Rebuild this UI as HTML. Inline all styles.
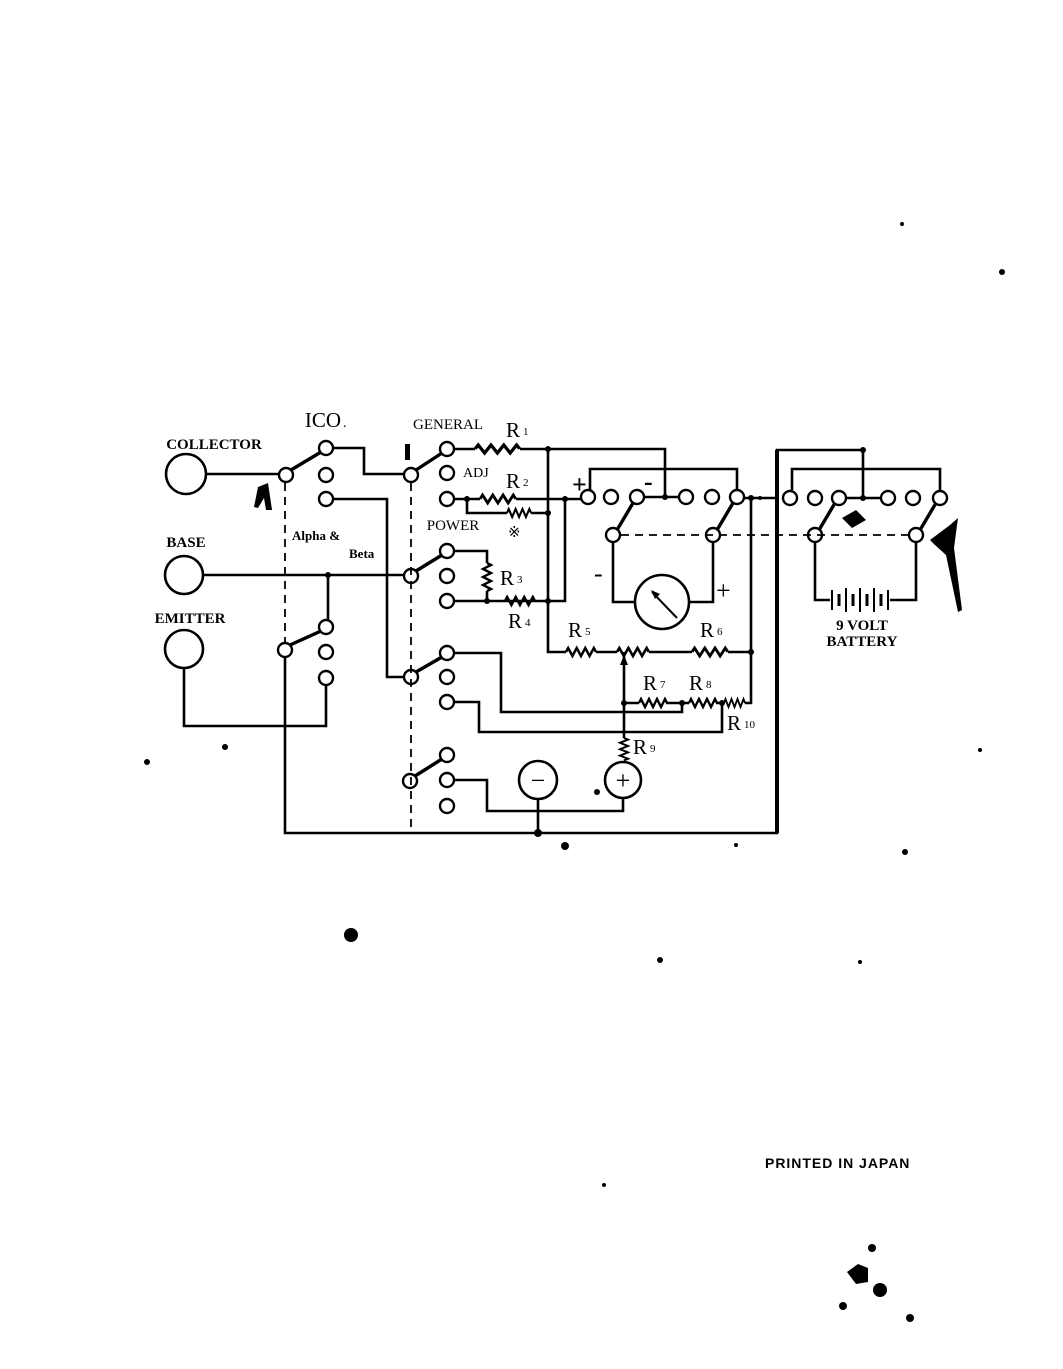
<!DOCTYPE html>
<html><head><meta charset="utf-8"><style>
html,body{margin:0;padding:0;background:#fff}
svg{display:block}
text{font-family:"Liberation Serif",serif;fill:#000}
.b{font-weight:bold}
</style></head><body>
<svg width="1063" height="1369" viewBox="0 0 1063 1369" xmlns="http://www.w3.org/2000/svg">
<defs>
<path id="zz" d="M0 0 l2 -4 l4 8 l4 -8 l4 8 l4 -8 l4 8 l4 -8 l2 4" fill="none" stroke="#000" stroke-width="2.4"/>
</defs>
<g fill="none" stroke="#000" stroke-width="2.6">
<circle cx="186" cy="474" r="20"/>
<circle cx="184" cy="575" r="19"/>
<circle cx="184" cy="649" r="19"/>
<g stroke-width="2.4">
<circle cx="286" cy="475" r="7"/><circle cx="326" cy="448" r="7"/><circle cx="326" cy="475" r="7"/><circle cx="326" cy="499" r="7"/>
<circle cx="285" cy="650" r="7"/><circle cx="326" cy="627" r="7"/><circle cx="326" cy="652" r="7"/><circle cx="326" cy="678" r="7"/>
<circle cx="411" cy="475" r="7"/><circle cx="447" cy="449" r="7"/><circle cx="447" cy="473" r="7"/><circle cx="447" cy="499" r="7"/>
<circle cx="411" cy="576" r="7"/><circle cx="447" cy="551" r="7"/><circle cx="447" cy="576" r="7"/><circle cx="447" cy="601" r="7"/>
<circle cx="411" cy="677" r="7"/><circle cx="447" cy="653" r="7"/><circle cx="447" cy="677" r="7"/><circle cx="447" cy="702" r="7"/>
<circle cx="410" cy="781" r="7"/><circle cx="447" cy="755" r="7"/><circle cx="447" cy="780" r="7"/><circle cx="447" cy="806" r="7"/>
<circle cx="588" cy="497" r="7"/><circle cx="611" cy="497" r="7"/><circle cx="637" cy="497" r="7"/><circle cx="686" cy="497" r="7"/><circle cx="712" cy="497" r="7"/><circle cx="737" cy="497" r="7"/>
<circle cx="613" cy="535" r="7"/><circle cx="713" cy="535" r="7"/>
<circle cx="790" cy="498" r="7"/><circle cx="815" cy="498" r="7"/><circle cx="839" cy="498" r="7"/><circle cx="888" cy="498" r="7"/><circle cx="913" cy="498" r="7"/><circle cx="940" cy="498" r="7"/>
<circle cx="815" cy="535" r="7"/><circle cx="916" cy="535" r="7"/>
</g>
<g stroke-width="3.4">
<line x1="291" y1="470" x2="321" y2="452"/>
<line x1="290" y1="645" x2="321" y2="631"/>
<line x1="416" y1="470" x2="442" y2="453"/>
<line x1="416" y1="571" x2="442" y2="555"/>
<line x1="416" y1="672" x2="442" y2="657"/>
<line x1="415" y1="776" x2="442" y2="759"/>
<line x1="617" y1="530" x2="633" y2="503"/>
<line x1="717" y1="530" x2="733" y2="503"/>
<line x1="819" y1="530" x2="835" y2="503"/>
<line x1="920" y1="530" x2="936" y2="503"/>
</g>
<path d="M206 474 H279"/>
<path d="M333 448 H364 V474 H404"/>
<path d="M333 499 H387 V677 H404"/>
<path d="M203 575 H404"/>
<path d="M328 575 V620"/>
<path d="M184 668 V726 H326 V685"/>
<path d="M285 657 V833 H777 V450 H863 V498"/>
<path d="M777 450 V833" stroke-width="4"/>
<path d="M454 449 H475 M520 449 H548 V652 H566 M596 652 H617 M649 652 H692 M728 652 H751"/>
<path d="M548 449 H665 V497 M644 497 H680"/>
<path d="M590 490 V469 H737 V490"/>
<path d="M454 499 H480 M516 499 H581"/>
<path d="M467 499 V513 H507 M531 513 H548"/>
<path d="M565 499 V601 H487"/>
<path d="M454 551 H487 V563 M487 591 V601 H454"/>
<path d="M744 498 H777 M751 498 V703 H745"/>
<path d="M613 542 V602 H635 M689 602 H713 V542"/>
<path d="M454 653 H501 V712 H682 V703"/>
<path d="M454 702 H479 V732 H722 V703"/>
<path d="M624 652 V738"/>
<path d="M624 703 H639 M666 703 H689 M716 703 H724"/>
<path d="M454 780 H487 V811 H623 V798"/>
<path d="M538 799 V833"/>
<path d="M846 498 H881"/>
<path d="M792 490 V469 H940 V490"/>
<path d="M815 542 V600 H830 M890 600 H916 V542"/>
<circle cx="662" cy="602" r="27"/>
<line x1="677" y1="618" x2="652" y2="592" stroke-width="2"/>
<circle cx="538" cy="780" r="19"/>
<circle cx="623" cy="780" r="18"/>
<g stroke-dasharray="8 6" stroke-width="1.8">
<line x1="285" y1="483" x2="285" y2="642"/>
<line x1="411" y1="483" x2="411" y2="833"/>
<line x1="621" y1="535" x2="908" y2="535"/>
</g>
</g>
<use href="#zz" transform="translate(475 449) scale(1.6 1)"/>
<use href="#zz" transform="translate(480 499) scale(1.28 1)"/>
<use href="#zz" transform="translate(507 513) scale(0.86 1)"/>
<use href="#zz" transform="translate(505 601) scale(1.07 1)"/>
<use href="#zz" transform="translate(566 652) scale(1.07 1)"/>
<use href="#zz" transform="translate(617 652) scale(1.14 1)"/>
<use href="#zz" transform="translate(692 652) scale(1.28 1)"/>
<use href="#zz" transform="translate(639 703)"/>
<use href="#zz" transform="translate(689 703)"/>
<use href="#zz" transform="translate(724 703) scale(0.75 1)"/>
<use href="#zz" transform="translate(487 563) rotate(90)"/>
<use href="#zz" transform="translate(624 738) rotate(90) scale(0.8 1)"/>
<polygon points="624,655 620,665 628,665" fill="#000"/>
<polygon points="651,590 660,594 655,599" fill="#000"/>
<g stroke="#000">
<line x1="832" y1="590" x2="832" y2="610" stroke-width="2"/>
<line x1="839" y1="594" x2="839" y2="606" stroke-width="3"/>
<line x1="846" y1="588" x2="846" y2="612" stroke-width="2"/>
<line x1="853" y1="594" x2="853" y2="606" stroke-width="3"/>
<line x1="860" y1="588" x2="860" y2="612" stroke-width="2"/>
<line x1="867" y1="594" x2="867" y2="606" stroke-width="3"/>
<line x1="874" y1="588" x2="874" y2="612" stroke-width="2"/>
<line x1="881" y1="594" x2="881" y2="606" stroke-width="3"/>
<line x1="888" y1="590" x2="888" y2="610" stroke-width="2"/>
</g>
<g fill="#000">
<circle cx="548" cy="449" r="3"/><circle cx="467" cy="499" r="3"/><circle cx="548" cy="513" r="3"/>
<circle cx="565" cy="499" r="3"/><circle cx="548" cy="601" r="3"/><circle cx="487" cy="601" r="3"/>
<circle cx="328" cy="575" r="3"/><circle cx="665" cy="497" r="3"/><circle cx="751" cy="498" r="3"/>
<circle cx="751" cy="652" r="3"/><circle cx="624" cy="703" r="3"/><circle cx="682" cy="703" r="3"/>
<circle cx="722" cy="703" r="3"/><circle cx="538" cy="833" r="4"/><circle cx="863" cy="498" r="3"/>
<circle cx="863" cy="450" r="3"/>
<circle cx="351" cy="935" r="7"/><circle cx="147" cy="762" r="3"/><circle cx="225" cy="747" r="3"/>
<circle cx="565" cy="846" r="4"/><circle cx="1002" cy="272" r="3"/><circle cx="660" cy="960" r="3"/>
<circle cx="597" cy="792" r="3"/><circle cx="980" cy="750" r="2"/><circle cx="905" cy="852" r="3"/>
<circle cx="604" cy="1185" r="2"/><circle cx="872" cy="1248" r="4"/><circle cx="843" cy="1306" r="4"/>
<circle cx="880" cy="1290" r="7"/><circle cx="910" cy="1318" r="4"/><circle cx="760" cy="498" r="2"/>
<circle cx="736" cy="845" r="2"/><circle cx="860" cy="962" r="2"/><circle cx="902" cy="224" r="2"/>
<path d="M847 1272 L858 1264 L868 1268 L868 1282 L856 1284 Z"/>
<path d="M842 518 L856 510 L866 520 L852 528 Z"/>
<path d="M930 540 L950 525 L958 518 L954 548 L962 610 L958 612 L946 555 L935 545 Z"/>
<path d="M258 487 L268 483 L272 510 L266 510 L264 498 L258 508 L254 507 Z"/>
<rect x="405" y="444" width="5" height="16"/>
</g>
<text x="214" y="449" class="b" font-size="15" text-anchor="middle">COLLECTOR</text>
<text x="186" y="547" class="b" font-size="15" text-anchor="middle">BASE</text>
<text x="190" y="623" class="b" font-size="15" text-anchor="middle">EMITTER</text>
<text x="323" y="427" font-size="21" text-anchor="middle">ICO</text>
<text x="343" y="427" font-size="14">.</text>
<text x="448" y="429" font-size="15" text-anchor="middle">GENERAL</text>
<text x="463" y="477" font-size="14">ADJ</text>
<text x="453" y="530" font-size="15" text-anchor="middle">POWER</text>
<text x="292" y="540" class="b" font-size="13">Alpha &amp;</text>
<text x="349" y="558" class="b" font-size="13">Beta</text>
<text x="506" y="437" font-size="21">R<tspan font-size="11" dx="3" dy="-2">1</tspan></text>
<text x="506" y="488" font-size="21">R<tspan font-size="11" dx="3" dy="-2">2</tspan></text>
<text x="508" y="537" font-size="15">※</text>
<text x="500" y="585" font-size="21">R<tspan font-size="11" dx="3" dy="-2">3</tspan></text>
<text x="508" y="628" font-size="21">R<tspan font-size="11" dx="3" dy="-2">4</tspan></text>
<text x="568" y="637" font-size="21">R<tspan font-size="11" dx="3" dy="-2">5</tspan></text>
<text x="700" y="637" font-size="21">R<tspan font-size="11" dx="3" dy="-2">6</tspan></text>
<text x="643" y="690" font-size="21">R<tspan font-size="11" dx="3" dy="-2">7</tspan></text>
<text x="689" y="690" font-size="21">R<tspan font-size="11" dx="3" dy="-2">8</tspan></text>
<text x="727" y="730" font-size="21">R<tspan font-size="11" dx="3" dy="-2">10</tspan></text>
<text x="633" y="754" font-size="21">R<tspan font-size="11" dx="3" dy="-2">9</tspan></text>
<text x="572" y="493" class="b" font-size="26">+</text>
<text x="644" y="490" class="b" font-size="26">-</text>
<text x="594" y="582" font-size="26">-</text>
<text x="716" y="599" font-size="26">+</text>
<text x="538" y="789" font-size="26" text-anchor="middle">−</text>
<text x="623" y="789" font-size="26" text-anchor="middle">+</text>
<text x="862" y="630" class="b" font-size="15" text-anchor="middle">9 VOLT</text>
<text x="862" y="646" class="b" font-size="15" text-anchor="middle">BATTERY</text>
<text x="765" y="1168" font-size="14" class="b" style="font-family:'Liberation Sans',sans-serif;letter-spacing:0.6px" textLength="145">PRINTED IN JAPAN</text>
</svg>
</body></html>
